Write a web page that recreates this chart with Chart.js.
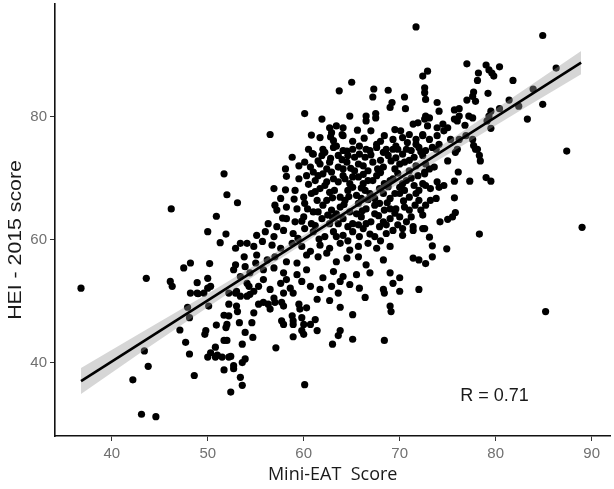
<!DOCTYPE html>
<html>
<head>
<meta charset="utf-8">
<script src="https://cdn.jsdelivr.net/npm/chart.js@4.4.0/dist/chart.umd.min.js"></script>
<style>
  html, body { margin: 0; padding: 0; background: #fff; }
  #wrap { width: 614px; height: 489px; }
</style>
</head>
<body>
<div id="wrap"><canvas id="myChart" width="614" height="489"></canvas></div>
<script>
// Mini-EAT score vs HEI-2015 score, points

const lowLeftScores = [
  [51.7,70.7],[52.0,67.3],[53.1,66.0],[46.2,65.0],[50.9,63.8],[50.0,61.3],[51.9,60.9],[51.3,59.5],
  [52.9,58.6],[53.4,59.4],[48.2,56.2],[47.5,55.4],[50.2,56.1],[52.9,55.9],[52.7,55.1],[43.6,53.7],
  [46.1,53.2],[46.3,52.4],[48.9,53.0],[50.0,53.7],[50.3,52.4],[50.0,52.1],[48.2,51.3],[48.9,51.3],
  [36.8,52.1],[53.4,54.0],[52.2,51.3],[53.0,51.6],
  [49.0,51.2],[49.6,51.3],[52.9,51.3],[53.4,50.8],[47.9,49.0],[48.1,47.3],[50.1,49.2],[52.2,49.5],
  [53.0,49.2],[53.1,48.3],[51.7,47.7],[52.2,47.6],[50.9,46.1],[52.0,46.2],[51.9,45.7],[53.3,46.5],
  [47.1,45.3],[49.8,45.2],[49.7,44.6],[47.7,43.3],[48.1,41.4],[51.7,43.6],[52.0,43.6],[50.8,42.5],
  [50.3,41.6],[50.0,40.9],[50.8,40.9],[51.5,40.9],[52.2,40.9],[51.0,41.2],[52.4,41.0],[52.7,39.5],
  [52.7,39.0],[51.7,38.8],[53.6,40.0],[53.4,37.6],[53.6,36.3],[52.4,35.2],[43.4,41.9],[43.8,39.4],
  [42.2,37.2],[48.6,37.9],[43.1,31.6],[44.6,31.2],[53.6,43.0]
]

const lowMidScores = [
  [54.4,51.1],[54.8,51.6],[54.1,50.8],[55.3,49.5],[55.8,49.8],[56.3,49.5],[56.9,50.5],[57.0,49.8],
  [56.5,48.7],[57.7,49.8],[57.9,49.2],[54.8,48.1],[54.6,46.5],[57.9,51.3],[53.9,44.9],[54.7,44.1],
  [53.9,40.6],[57.1,42.4],[57.7,46.8],[57.9,46.2],[58.8,47.6],[58.9,46.8],[58.9,46.2],[59.8,47.3],
  [60.0,46.2],[59.5,49.5],[59.6,48.7],[60.3,48.9],[58.9,44.2],[59.8,45.2],[60.0,44.6],[60.7,46.2],
  [61.2,47.0],[61.4,50.3],[61.4,45.2],[60.1,36.4],[62.7,50.1],[63.6,51.3],[63.8,49.0],[63.8,45.2],
  [63.6,44.4],[63.0,43.0],[65.1,47.8],[65.1,43.8],[66.4,50.6],[68.4,51.3],[70.0,51.6],[69.0,49.2],
  [69.1,48.3],[68.4,43.6]
]

const rightScores = [
  [85.2,48.3],
  [87.4,74.4],[89.0,62.0],[78.3,60.9],[79.0,70.1],[79.5,69.5],[77.3,69.5],[76.1,71.0],[75.7,69.5],
  [75.7,66.8],[75.8,64.4],[75.5,63.7],[75.0,63.3],[74.2,62.9],[74.9,58.5],[73.4,59.0],[73.1,60.4],
  [73.4,57.2],[72.7,56.1],[72.6,61.8],[72.4,64.0],[72.7,65.6],[73.2,66.4],[73.8,66.7],[72.7,68.8],
  [73.2,68.3],[73.9,69.4],[74.1,68.5],[74.6,68.8],[72.6,70.7],[73.1,71.5],[73.6,71.8],[75.0,72.8],
  [75.8,74.2],[77.9,74.7],[78.3,73.7],[78.4,72.8],[72.7,74.5],[73.8,74.7]
]

const topRightScores = [
  [84.9,93.2],[86.3,87.9],[77.0,88.6],[79.0,88.4],[79.3,87.6],[79.6,87.1],[79.8,86.6],[80.4,88.1],
  [78.2,87.1],[78.1,85.9],[81.8,85.9],[79.2,83.8],[77.7,84.0],[77.6,83.3],[77.9,82.5],[77.0,82.7],
  [81.4,82.7],[83.9,84.5],[82.4,81.7],[84.9,82.0],[83.3,79.6],[80.4,81.3],[79.5,80.9],[79.3,80.1],
  [79.1,79.3],[79.5,78.1],[76.2,81.3],[75.7,81.1],[76.2,80.1],[77.2,80.1],[77.6,79.8],[76.8,78.6],
  [75.7,79.6],[76.0,79.3],[73.9,82.3],[74.1,80.9],[72.9,87.4],[72.4,86.6],[72.6,84.7],[72.6,83.9],
  [72.7,82.8],[72.7,80.1],[73.1,79.8],[72.9,78.5],[73.9,78.2],[74.5,78.8],[75.0,78.2],[74.6,77.7],
  [72.4,77.1],[73.1,76.3],[73.9,76.9],[74.1,75.5],[75.3,76.3],[76.2,76.3],[76.9,76.9],[77.6,76.3],
  [77.7,75.3],[78.1,74.7],[76.0,74.7],[73.4,75.0]
]

const topMidScores = [
  [71.7,94.6],[65.0,85.6],[63.7,84.2],[67.3,84.5],[68.8,84.3],[67.2,83.2],[70.5,83.2],[69.2,82.3],
  [69.0,81.5],[70.6,81.3],[60.1,80.5],[61.9,79.6],[64.8,80.1],[66.5,80.1],[66.5,79.3],[67.5,80.5],
  [67.5,79.8],[56.5,77.1],[60.8,77.0],[62.7,78.2],[63.4,78.5],[64.1,78.2],[62.9,77.4],[64.0,77.1],
  [61.7,76.6],[63.1,76.1],[64.1,76.9],[69.5,77.9],[70.1,77.7],[71.4,78.8],[71.9,79.0],[72.6,79.6],
  [68.4,76.9],[69.3,76.3],[70.3,76.6],[71.0,77.1],[71.7,76.3],[72.4,76.9],[62.0,74.7],[63.4,75.2],
  [64.5,74.4],[65.8,75.2],[66.5,74.7],[67.6,75.5],[68.6,74.7],[69.6,75.2],[70.7,74.7],[71.7,75.5],
  [62.8,76.7],[65.1,76.0],[66.3,76.5],[67.0,77.7],[68.0,76.0],[70.8,75.8],[65.6,77.8]
]

const centerScores = [
  [62.2,74.2],[63.1,75.0],[64.1,74.5],[65.1,74.7],[65.8,73.9],[66.9,74.5],[67.6,75.0],[68.3,74.2],
  [69.3,74.7],[70.3,73.9],[71.2,74.5],[72.0,75.0],[72.4,73.7],[61.5,72.8],[60.1,72.6],[58.8,73.4],
  [61.0,73.9],[58.1,71.5],[59.5,72.0],[60.7,71.8],[61.7,72.3],[62.7,72.6],[63.6,71.8],[64.5,72.6],
  [65.3,71.2],[66.2,72.0],[67.2,72.6],[68.3,71.8],[69.1,72.8],[70.0,72.3],[71.0,71.2],[71.7,72.0],
  [72.7,72.3],[59.5,69.9],[60.3,70.4],[61.2,69.6],[62.0,70.7],[63.1,69.9],[64.1,70.4],[64.8,69.1],
  [65.7,70.2],[66.7,69.6],[67.6,70.4],[68.4,69.1],[69.3,69.9],[70.0,68.5],[70.7,69.6],[71.5,68.8],
  [72.4,69.1],[56.9,68.3],[58.1,68.1],[59.1,68.0],[60.0,66.9],[60.8,67.5],[61.7,68.3],[62.7,67.7],
  [63.8,66.9],[64.6,68.0],[65.5,67.2],[66.4,68.0],[67.4,66.7],[68.3,67.5],[69.0,66.7],[70.0,67.5],
  [71.0,66.9],[72.0,66.4],[57.6,66.7],[57.0,65.6],[57.2,64.8],[58.2,65.3],[59.3,65.0],[60.1,65.9],
  [61.0,64.5],[62.0,65.6],[62.9,64.8],[63.8,65.3],[64.8,64.5],[65.7,65.9],[66.5,65.0],[67.4,65.6],
  [68.4,64.8],[69.6,65.0],[71.2,63.7],[72.2,64.8],[56.3,62.6],[57.2,62.1],[58.2,63.4],[59.1,62.9],
  [60.0,63.7],[60.8,62.6],[61.9,63.4],[62.7,62.6],[64.1,63.4],[65.1,62.6],[66.0,63.7],[67.0,62.9],
  [67.9,62.1],[69.0,63.4],[69.8,62.4],[71.4,62.1],[72.4,61.8],[55.1,60.7],[56.0,61.3],[56.9,60.5],
  [57.9,61.5],[58.9,61.0],[60.1,61.8],[61.0,61.3],[62.2,60.5],[63.1,61.3],[64.1,60.7],[65.1,61.3],
  [66.2,61.8],[67.4,60.5],[68.6,61.0],[70.3,60.7],[54.1,59.4],[54.8,58.9],[55.7,59.7],[56.7,59.1],
  [57.6,58.6],[58.8,59.4],[59.8,58.9],[60.7,58.1],[61.7,59.1],[62.7,58.6],[63.8,59.4],[64.8,58.3],
  [65.7,58.9],[66.7,59.4],[67.6,58.6],[69.0,58.9],[53.8,57.2],[55.1,57.5],[56.2,56.7],[57.0,57.2],
  [58.2,56.4],[59.3,56.2],[60.3,57.5],[61.5,57.2],[62.4,57.8],[63.4,56.4],[64.5,57.0],[65.7,57.2],
  [66.5,55.9],[68.3,56.7],[71.4,57.0],[72.0,56.7],[54.4,54.6],[55.8,55.1],[56.9,55.4],[57.9,54.6],
  [59.3,54.3],[60.3,55.1],[62.0,53.8],[63.1,54.8],[64.1,54.0],[65.5,54.3],[66.9,54.6],[69.0,54.6],
  [70.0,53.8],[54.1,52.9],[55.3,52.4],[56.5,51.9],[57.6,52.9],[58.6,52.1],[59.8,53.2],[60.7,52.4],
  [61.7,51.9],[62.9,52.4],[63.8,53.2],[64.8,52.7],[65.8,52.1],[68.3,51.9],[69.3,52.9],[72.0,51.9],
  [60.5,74.7],[61.9,73.7],[63.6,73.7],[64.6,73.7],[66.4,73.4],[68.8,73.7],[69.8,74.7],[71.5,73.4],
  [62.4,71.5],[64.1,71.5],[65.7,72.3],[66.7,71.2],[67.7,71.5],[69.5,71.5],[70.5,72.6],[61.5,70.4],
  [63.6,69.4],[65.1,70.2],[66.2,69.1],[67.2,69.6],[69.0,69.6],[71.9,70.4],[62.2,68.8],[63.2,68.0],
  [65.1,68.5],[66.9,67.5],[67.9,68.3],[69.5,67.5],[70.5,68.0],[71.7,67.5],[61.4,66.4],[62.4,66.4],
  [64.3,66.4],[66.0,66.7],[67.9,65.9],[69.0,65.0],[70.5,65.3],[61.5,64.5],[63.4,64.2],[65.5,64.2],
  [67.4,64.2],[70.0,63.7],[63.6,62.6],[65.7,62.4],[68.3,62.9],[70.7,62.9],[63.4,60.5],[65.8,60.5],
  [69.3,61.5],[71.4,61.5],[53.9,55.6],[55.0,56.2],[54.3,52.4],[55.8,53.5],[58.2,53.5],[58.9,51.3],
  [60.9,74.0],[62.8,73.2],[64.0,73.0],[65.3,73.4],[67.0,73.8],[68.0,72.9],[69.6,73.3],[71.0,72.9],
  [72.2,74.3],[61.0,71.0],[62.9,71.0],[64.9,71.6],[66.2,70.6],[68.0,70.9],[69.8,70.8],[71.2,70.0],
  [72.6,71.0],[60.5,69.0],[62.4,69.4],[64.3,69.9],[66.0,68.4],[68.8,68.6],[70.3,69.1],[72.0,68.0],
  [61.2,67.8],[63.0,66.8],[64.7,67.0],[66.7,66.5],[68.7,66.0],[70.4,66.3],[71.6,65.6],[60.4,65.0],
  [62.5,64.0],[64.2,65.7],[66.1,64.7],[67.8,63.9],[69.5,64.3],[71.0,64.8],[61.2,62.3],[63.0,63.6],
  [64.6,62.1],[66.5,62.6],[68.6,62.4],[70.3,61.8],[59.4,60.2],[61.6,60.1],[64.6,59.8],[66.9,60.9],
  [68.0,59.8],[58.2,70.3],[59.0,66.6],[57.8,63.5],[59.8,63.0]
]

// Regression line and its confidence band
const fitX = [36.8, 88.9]
const fitY = [37.0, 88.8]
const bandX = [36.8, 43, 50, 56, 63, 70, 76, 83, 88.9]
const bandUpper = [39.1, 44.8, 51.2, 56.9, 63.6, 70.8, 77.0, 84.4, 90.7]
const bandLower = [34.9, 41.6, 49.0, 55.3, 62.4, 69.2, 74.8, 81.4, 86.9]

const xTicks = [40, 50, 60, 70, 80, 90]
const yTicks = [40, 60, 80]

const xTitle = 'Mini-EAT  Score'
const yTitle = 'HEI - 2015 score'
const rLabel = 'R = 0.71'
const rLabelAt = [76.3, 33.7]

const allScores = [].concat(lowLeftScores, lowMidScores, rightScores, topRightScores, topMidScores, centerScores)

// Titles and the R label, drawn by hand to sit where ggplot put them
const textPlugin = {
  id: 'texts',
  afterDraw(chart) {
    const { ctx, chartArea, scales } = chart
    ctx.save()
    ctx.fillStyle = '#1a1a1a'

    ctx.font = '18px "Open Sans"'
    ctx.textAlign = 'center'
    ctx.textBaseline = 'middle'
    ctx.fillText(xTitle, (chartArea.left + chartArea.right) / 2, 475)

    ctx.save()
    ctx.translate(16, 240)
    ctx.rotate(-Math.PI / 2)
    ctx.scale(1.12, 1)
    ctx.font = '19px "Liberation Sans"'
    ctx.fillText(yTitle, 0, 0)
    ctx.restore()

    ctx.font = '18px "Liberation Sans"'
    ctx.textAlign = 'left'
    ctx.textBaseline = 'alphabetic'
    ctx.fillText(rLabel, scales.x.getPixelForValue(rLabelAt[0]), scales.y.getPixelForValue(rLabelAt[1]))
    ctx.restore()
  }
}

// chart.js leaves room for half a tick label at the axis ends; ggplot does not
function noEndPadding(s) {
  s.paddingTop = 0
  s.paddingBottom = 0
  s.paddingLeft = 0
  s.paddingRight = 0
}

const tickFont = { family: 'Liberation Sans', size: 15 }

const ctx = document.getElementById('myChart').getContext('2d')
const myChart = new Chart(ctx, {
  type: 'scatter',
  data: {
    datasets: [
      {
        type: 'line',
        data: fitX.map((x, i) => ({ x: x, y: fitY[i] })),
        borderColor: '#000',
        borderWidth: 2.6,
        pointRadius: 0,
        fill: false,
        order: 0
      },
      {
        type: 'line',
        data: bandX.map((x, i) => ({ x: x, y: bandUpper[i] })),
        borderWidth: 0,
        borderColor: 'rgba(0,0,0,0)',
        backgroundColor: 'rgba(153,153,153,0.4)',
        pointRadius: 0,
        fill: '+1',
        order: 1
      },
      {
        type: 'line',
        data: bandX.map((x, i) => ({ x: x, y: bandLower[i] })),
        borderWidth: 0,
        borderColor: 'rgba(0,0,0,0)',
        pointRadius: 0,
        fill: false,
        order: 2
      },
      {
        data: allScores.map(p => ({ x: p[0], y: p[1] })),
        backgroundColor: '#000',
        borderWidth: 0,
        pointRadius: 3.6,
        pointHoverRadius: 3.6,
        order: 3
      }
    ]
  },
  options: {
    responsive: false,
    animation: false,
    devicePixelRatio: 1,
    events: [],
    layout: { padding: 0 },
    plugins: {
      legend: { display: false },
      tooltip: { enabled: false },
      title: { display: false }
    },
    scales: {
      x: {
        type: 'linear',
        min: 34.09,
        max: 91.95,
        afterBuildTicks: s => { s.ticks = xTicks.map(v => ({ value: v })) },
        afterFit: s => { s.height = 53; noEndPadding(s) },
        grid: { drawOnChartArea: false, drawTicks: true, tickLength: 5, color: '#333', lineWidth: 1 },
        border: { display: true, color: '#111', width: 1.6 },
        ticks: { color: '#707070', font: tickFont, padding: 4, maxRotation: 0, autoSkip: false }
      },
      y: {
        type: 'linear',
        min: 28.06,
        max: 98.39,
        afterBuildTicks: s => { s.ticks = yTicks.map(v => ({ value: v })) },
        afterFit: s => { s.width = 55; noEndPadding(s) },
        grid: { drawOnChartArea: false, drawTicks: true, tickLength: 5, color: '#333', lineWidth: 1 },
        border: { display: true, color: '#111', width: 1.6 },
        ticks: { color: '#707070', font: tickFont, padding: 3, autoSkip: false }
      }
    }
  },
  plugins: [textPlugin]
})
</script>
</body>
</html>
